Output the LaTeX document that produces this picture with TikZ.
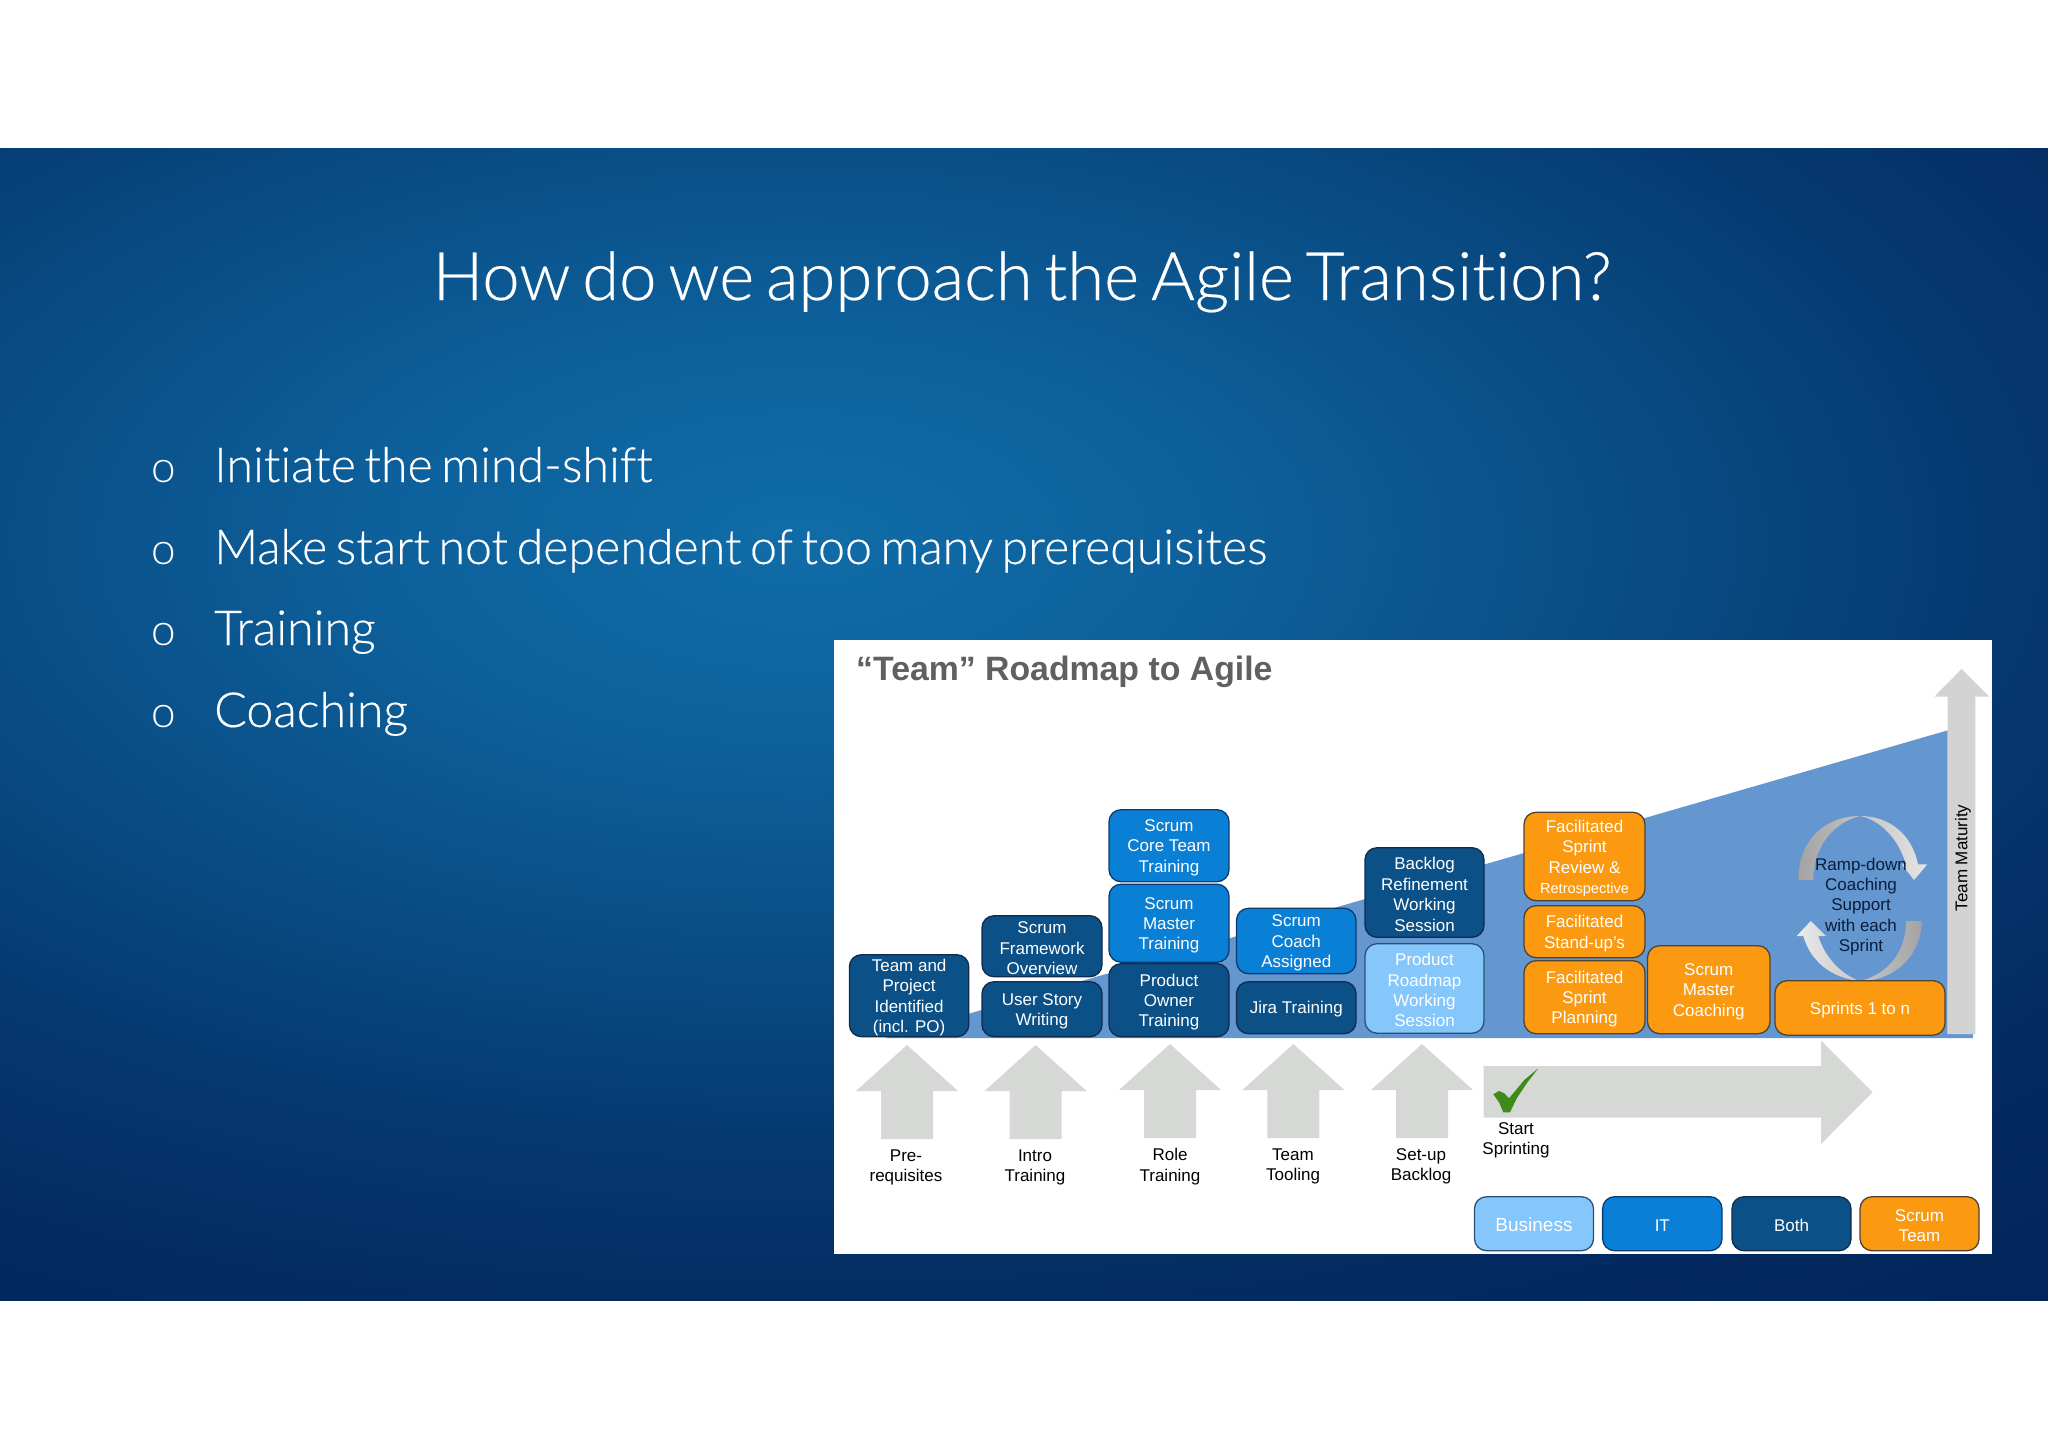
\documentclass[tikz,border=0pt]{standalone}
\usepackage{fontspec}
\setmainfont{Liberation Sans}
\newfontfamily\lightfont{Lato Light}[Ligatures=NoCommon,WordSpace=0.65,FakeBold=0.35]
\newfontfamily\bulletfont{Lato Light}
\usetikzlibrary{shapes.geometric}
\definecolor{bgA}{RGB}{16,108,168}
\definecolor{bgB}{RGB}{13,96,155}
\definecolor{bgC}{RGB}{9,76,132}
\definecolor{bgF}{RGB}{5,57,112}
\definecolor{bgG}{RGB}{3,44,98}
\definecolor{bgD}{RGB}{2,38,92}
\definecolor{darkbox}{RGB}{11,80,134}
\definecolor{darkedge}{RGB}{16,44,76}
\definecolor{midbox}{RGB}{10,127,214}
\definecolor{midedge}{RGB}{12,60,110}
\definecolor{lightbox}{RGB}{133,198,251}
\definecolor{lightedge}{RGB}{40,80,120}
\definecolor{orangebox}{RGB}{251,153,16}
\definecolor{orangeedge}{RGB}{80,66,48}
\definecolor{ramp}{RGB}{100,150,208}
\definecolor{arrowgray}{RGB}{214,216,214}
\definecolor{matgray}{RGB}{211,211,211}
\definecolor{titlegray}{RGB}{95,96,96}
\definecolor{checkgreen}{RGB}{62,138,27}
\definecolor{navytext}{RGB}{10,29,60}
\pgfdeclareradialshading{bgshade}{\pgfpoint{0bp}{0bp}}{%
  color(0bp)=(bgA); color(3.5bp)=(bgB); color(7bp)=(bgC); color(10bp)=(bgF); color(13bp)=(bgG); color(16bp)=(bgD); color(50bp)=(bgD)}
\tikzset{
  rbox/.style={rounded corners=12pt,line width=1.3pt,inner sep=0pt,outer sep=0pt,align=center,font=\fontsize{17}{20.4}\selectfont},
  darkb/.style={rbox,fill=darkbox,draw=darkedge,text=white},
  midb/.style={rbox,fill=midbox,draw=midedge,text=white},
  lightb/.style={rbox,fill=lightbox,draw=lightedge,text=white},
  orangeb/.style={rbox,fill=orangebox,draw=orangeedge,text=white},
  lab/.style={inner sep=0pt,align=center,text=black,font=\fontsize{17}{20.4}\selectfont},
  uparrow/.style={fill=arrowgray,draw=none},
  bullettext/.style={inner sep=0pt,anchor=base west,text=white,font=\lightfont\fontsize{48.3}{57}\selectfont},
  bulletmark/.style={inner sep=0pt,anchor=base,text=white,font=\bulletfont\fontsize{44}{50}\selectfont}
}
\newcommand{\bx}[7]{\node[#6,minimum width={(#4-#2)*1pt},minimum height={(#5-#3)*1pt}] (#1) at ({(#2+#4)/2},{(#3+#5)/2+0.7}) {\rule{0pt}{16pt}#7};}
\newcommand{\uparr}[3]{\fill[uparrow] (#1,#2) -- ++(51,46) -- ++(-25,0) -- (#1+26,#3) -- (#1-26,#3) -- (#1-26,#2+46) -- ++(-25,0) -- cycle;}
\begin{document}
\begin{tikzpicture}[x=1pt,y=-1pt]
\useasboundingbox (0,0) rectangle (2048,1448);
\fill[white] (0,0) rectangle (2048,1448);
\fill[bgD] (0,148) rectangle (2048,1300);
\begin{scope}
\clip (0,148) rectangle (2048,1300);
\shade[shading=bgshade] (800,540) ellipse (3000 and 1500);
\end{scope}
% slide text
\node[inner sep=0pt,anchor=base,text=white,font=\lightfont\fontsize{67}{70}\selectfont] (title) at (1022,300) {How do we approach the Agile Transition?};
\node[bulletmark] (b1) at (164,482) {o};
\node[bullettext] (t1) at (214,482) {Initiate the mind-shift};
\node[bulletmark] (b2) at (164,564) {o};
\node[bullettext] (t2) at (214,564) {Make start not dependent of too many prerequisites};
\node[bulletmark] (b3) at (164,645) {o};
\node[bullettext] (t3) at (214,645) {Training};
\node[bulletmark] (b4) at (164,727) {o};
\node[bullettext] (t4) at (214,727) {Coaching};
% panel
\fill[white] (834,640) rectangle (1992,1254);
\node[inner sep=0pt,anchor=base west,text=titlegray,font=\bfseries\fontsize{33.8}{36}\selectfont] (ptitle) at (856,680) {“Team” Roadmap to Agile};
% ramp
\fill[ramp] (885,1038) -- (1947.5,730.4) -- (1947.5,1034) -- (1973,1034) -- (1973,1038) -- cycle;
% maturity arrow
\fill[matgray] (1961.6,669) -- (1989,696.5) -- (1975.4,696.5) -- (1975.4,1034) -- (1947.5,1034) -- (1947.5,696.5) -- (1934.5,696.5) -- cycle;
\node[rotate=90,inner sep=0pt,text=black,font=\fontsize{17}{20}\selectfont] (mat) at (1963,858) {Team Maturity};
% up arrows
\uparr{907}{1045}{1139}
\uparr{1035.6}{1045}{1139}
\uparr{1170}{1044}{1138}
\uparr{1293.4}{1044}{1138}
\uparr{1422}{1044}{1138}
\node[lab] (l1) at (906,1167.6) {Pre-\\requisites};
\node[lab] (l2) at (1035,1167.6) {Intro\\Training};
\node[lab] (l3) at (1170,1166.6) {Role\\Training};
\node[lab] (l4) at (1293,1166.6) {Team\\Tooling};
\node[lab] (l5) at (1421,1166.6) {Set-up\\Backlog};
% sprint arrow
\fill[arrowgray] (1483.6,1066) -- (1821,1066) -- (1821,1040.5) -- (1872.6,1092.2) -- (1821,1144) -- (1821,1117.5) -- (1483.6,1117.5) -- cycle;
\fill[checkgreen] (1493.3,1094.3) -- (1499,1091) -- (1504.3,1093.3) -- (1509,1098.3) -- (1524.3,1080) -- (1538.3,1068.3) -- (1526.7,1083.3) -- (1516.7,1098.3) -- (1510,1112.3) -- (1503.3,1112.3) -- (1499,1102.3) -- cycle;
\node[lab] (l6) at (1516,1140.6) {Start\\Sprinting};
% boxes
\bx{a1}{849.4}{954}{968.8}{1036}{darkb}{Team and\\Project\\Identified\\(incl. PO)}
\bx{a2}{982}{915}{1102}{976}{darkb}{Scrum\\Framework\\Overview}
\bx{a3}{982}{981}{1102}{1036}{darkb}{User Story\\Writing}
\bx{a4}{1109}{809}{1229}{881}{midb}{Scrum\\Core Team\\Training}
\bx{a5}{1109}{883.5}{1229}{961.5}{midb}{Scrum\\Master\\Training}
\bx{a6}{1109}{963}{1229}{1036}{darkb}{Product\\Owner\\Training}
\bx{a7}{1236.5}{907.6}{1356}{973}{midb}{Scrum\\Coach\\Assigned}
\bx{a8}{1236.5}{981}{1356}{1033}{darkb}{Jira Training}
\bx{a9}{1365}{847}{1484}{936.6}{darkb}{Backlog\\Refinement\\Working\\Session}
\bx{a10}{1365}{943}{1484}{1032.5}{lightb}{Product\\Roadmap\\Working\\Session}
\bx{a11}{1524}{811.6}{1645}{900}{orangeb}{Facilitated\\Sprint\\Review \&\\{\fontsize{14.5}{18}\selectfont Retrospective}}
\bx{a12}{1524}{905}{1645}{957}{orangeb}{Facilitated\\Stand-up’s}
\bx{a13}{1524}{960}{1645}{1033}{orangeb}{Facilitated\\Sprint\\Planning}
\bx{a14}{1647.5}{945}{1770}{1033}{orangeb}{Scrum\\Master\\Coaching}
% cycle arrows
\shade[left color=black!36,right color=black!10] (1798.3,880) .. controls (1798.3,840) and (1825,816) .. (1860,816) .. controls (1890,816) and (1912,835) .. (1918,864.3) -- (1927.3,864.3) -- (1914,880) -- (1901.7,864.3) -- (1906,864.3) .. controls (1898,838) and (1880,820) .. (1860,816) .. controls (1835,822) and (1813.3,845) .. (1813.3,880) -- cycle;
\shade[left color=black!8,right color=black!36] (1921.7,921) .. controls (1921.7,955) and (1895,981) .. (1860,981) .. controls (1830,978) and (1810,960) .. (1803.3,936) -- (1796.7,936) -- (1810.7,921) -- (1826,936) -- (1818.3,936) .. controls (1825,958) and (1842,975) .. (1860,981) .. controls (1885,975) and (1906,955) .. (1906,921) -- cycle;
\node[lab,text=navytext] (cyc) at (1861,906.4) {Ramp-down\\Coaching\\Support\\with each\\Sprint};
\bx{a15}{1775}{980}{1945}{1034.5}{orangeb}{Sprints 1 to n}
% legend
\bx{k1}{1474.5}{1196}{1593.5}{1250}{lightb}{\fontsize{19}{22}\selectfont Business}
\bx{k2}{1602.6}{1196}{1722}{1250}{midb}{IT}
\bx{k3}{1732}{1196}{1851}{1250}{darkb}{Both}
\bx{k4}{1860}{1196}{1979}{1250}{orangeb}{Scrum\\Team}
\end{tikzpicture}
\end{document}
